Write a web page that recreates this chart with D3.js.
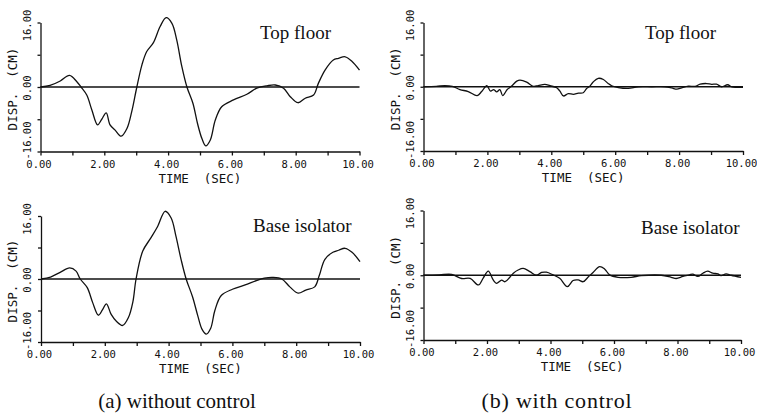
<!DOCTYPE html>
<html>
<head>
<meta charset="utf-8">
<title>Displacement time histories</title>
<script src="https://d3js.org/d3.v7.min.js"></script>
<style>
    body { margin: 0; background: #fff; }
    svg { display: block; }
    .tick text, .lbl { font-family: "DejaVu Sans Mono", monospace; font-size: 10.5px; fill: #111; }
    .ttl { font-family: "DejaVu Sans Mono", monospace; font-size: 12.5px; fill: #111; }
    .serif { font-family: "Liberation Serif", "Times New Roman", serif; fill: #111; }
</style>
</head>
<body>
<svg id="chart" width="757" height="417"></svg>
<script>
// datos: tiempo (s) y desplazamiento (cm)
const tTopA = [0, 0.3, 0.62, 0.91, 1.14, 1.27, 1.45, 1.61, 1.79, 1.92, 2.06, 2.18, 2.34, 2.53, 2.71, 2.86, 3.02, 3.18, 3.33, 3.54, 3.75, 3.94, 4.12, 4.27, 4.43, 4.59, 4.78, 4.92, 5.06, 5.18, 5.32, 5.48, 5.68, 6.05, 6.47, 6.78, 7.10, 7.36, 7.62, 7.83, 8.07, 8.30, 8.56, 8.71, 8.92, 9.18, 9.34, 9.55, 9.76, 10.0];
const dTopA = [0, 0.4, 1.5, 2.9, 1.3, 0, -2.0, -5.7, -9.4, -8.0, -6.4, -9.4, -10.7, -12.2, -10.3, -6.1, 0, 5.5, 8.8, 11.0, 15.0, 17.2, 15.8, 11.7, 5.1, 0, -4.1, -9.0, -12.8, -14.6, -13.2, -8.2, -4.9, -3.2, -1.8, -0.3, 0.3, 0.5, -0.3, -2.4, -3.9, -2.8, -2.0, 0.9, 4.2, 6.7, 7.1, 7.5, 6.4, 4.2];

const tBaseA = [0, 0.3, 0.6, 0.9, 1.1, 1.23, 1.45, 1.62, 1.8, 1.93, 2.05, 2.2, 2.37, 2.56, 2.74, 2.88, 2.98, 3.19, 3.45, 3.66, 3.89, 4.08, 4.23, 4.39, 4.55, 4.75, 4.92, 5.05, 5.18, 5.32, 5.45, 5.65, 6.0, 6.4, 6.75, 7.0, 7.27, 7.55, 7.8, 8.06, 8.3, 8.58, 8.72, 8.9, 9.15, 9.33, 9.53, 9.75, 10.0];
const dBaseA = [0, 0.5, 1.7, 2.8, 2.0, 0, -2.2, -6.0, -9.2, -7.8, -6.3, -9.0, -10.8, -11.8, -9.8, -5.8, 0, 7.1, 10.5, 13.4, 17.2, 15.5, 10.9, 5.0, 0, -4.5, -9.5, -12.8, -14.0, -12.5, -8.0, -4.2, -2.6, -1.5, -0.4, 0.2, 0.4, 0, -2.0, -3.6, -2.8, -2.0, 0.8, 5.0, 6.8, 7.3, 7.8, 6.8, 4.4];

const tTopB = [0, 0.4, 0.67, 0.9, 1.14, 1.4, 1.68, 1.82, 1.98, 2.1, 2.2, 2.29, 2.39, 2.48, 2.62, 2.76, 2.92, 3.02, 3.23, 3.44, 3.59, 3.8, 3.96, 4.17, 4.27, 4.38, 4.53, 4.69, 4.85, 5.0, 5.1, 5.2, 5.31, 5.47, 5.63, 5.78, 5.89, 6.1, 6.41, 6.72, 7.14, 7.56, 7.77, 7.93, 8.08, 8.29, 8.5, 8.66, 8.86, 9.02, 9.17, 9.33, 9.52, 9.65, 10.0];
const dTopB = [0, 0.1, 0.3, 0.1, -0.7, -1.2, -2.2, -1.2, 0.25, -1.1, -0.7, -1.3, -0.7, -2.2, -0.7, 0.2, 1.4, 1.65, 1.15, 0.1, 0.3, 0.6, 0.25, -0.25, -1.1, -2.3, -1.7, -1.9, -1.6, -1.5, -0.5, 0.1, 1.2, 2.1, 1.8, 0.8, 0.25, -0.2, -0.4, 0, 0, 0, -0.3, -0.6, -0.25, 0.15, 0.1, 0.65, 0.8, 0.6, 0.65, 0, 0.5, 0, -0.15];

const tBaseB = [0, 0.5, 0.89, 1.2, 1.47, 1.73, 1.88, 2.04, 2.2, 2.3, 2.46, 2.57, 2.72, 2.83, 2.98, 3.14, 3.35, 3.56, 3.72, 3.87, 4.08, 4.29, 4.53, 4.71, 4.87, 5.03, 5.18, 5.34, 5.55, 5.71, 5.86, 6.13, 6.54, 6.86, 7.49, 7.8, 7.96, 8.17, 8.38, 8.48, 8.64, 8.8, 8.95, 9.11, 9.27, 9.37, 9.53, 9.69, 10.0];
const dBaseB = [0, 0.1, 0.2, -0.8, -0.8, -2.4, -0.7, 1.0, -1.2, -2.0, -1.2, -1.6, -0.5, 0.5, 1.3, 1.7, 0.9, 0, 0.7, 0.75, 0.1, -0.75, -2.8, -1.3, -1.15, -1.6, -0.5, 0.7, 2.15, 1.5, 0.1, -0.5, -0.5, -0.1, 0, -0.5, -0.8, -0.3, 0.1, 0.3, -0.3, 0.5, 1.0, 0.5, 0.35, -0.1, 0.35, 0, -0.5];

const xTicks = [0, 1, 2, 3, 4, 5, 6, 7, 8, 9, 10];
const xLabelTicks = [0, 2, 4, 6, 8, 10];
const yTicks = [-16, -8, 0, 8, 16];
const yLabelTicks = [16, 0, -16];
const xTitle = "TIME  (SEC)";
const yTitle = "DISP.  (CM)";
const captions = ["(a) without control", "(b) with control"];

// paneles: posicion en la pagina
const panels = [
    { t: tTopA,  d: dTopA,  name: "Top floor",     left: 40.5,  right: 359.5, top: 22.5,  bottom: 151.5, lx: 260, ly: 39 },
    { t: tTopB,  d: dTopB,  name: "Top floor",     left: 423.5, right: 743,   top: 22.5,  bottom: 151,   lx: 645, ly: 39 },
    { t: tBaseA, d: dBaseA, name: "Base isolator", left: 41,    right: 360,   top: 216,   bottom: 342,   lx: 253, ly: 232 },
    { t: tBaseB, d: dBaseB, name: "Base isolator", left: 423.5, right: 741,   top: 210.5, bottom: 340,   lx: 641, ly: 234 }
];

const svg = d3.select("#chart");

panels.forEach(p => {
    const x = d3.scaleLinear().domain([0, 10]).range([p.left, p.right]);
    const y = d3.scaleLinear().domain([-16, 16]).range([p.bottom, p.top]);
    const g = svg.append("g");

    // eje x
    const ax = g.append("g")
        .attr("transform", `translate(0,${p.bottom})`)
        .call(d3.axisBottom(x).tickValues(xTicks).tickSize(4).tickSizeOuter(0).tickPadding(5)
            .tickFormat(d => xLabelTicks.includes(d) ? d.toFixed(2) : ""));
    ax.selectAll("text").attr("dx", -2);

    // eje y (sin etiquetas, se ponen rotadas abajo)
    g.append("g")
        .attr("transform", `translate(${p.left},0)`)
        .call(d3.axisLeft(y).tickValues(yTicks).tickSize(3).tickSizeOuter(0).tickFormat(""));

    g.selectAll(".domain, .tick line").attr("stroke", "#111").attr("stroke-width", 1.3);

    yLabelTicks.forEach(v => {
        const yy = y(v) + (v < 0 ? -11 : (v > 0 ? 3 : 1));
        g.append("text").attr("class", "lbl")
            .attr("transform", `translate(${p.left - 10},${yy}) rotate(-90)`)
            .attr("text-anchor", "middle")
            .text(v.toFixed(2));
    });

    g.append("text").attr("class", "ttl")
        .attr("x", (p.left + p.right) / 2).attr("y", p.bottom + 31)
        .attr("text-anchor", "middle")
        .style("white-space", "pre")
        .text(xTitle);

    g.append("text").attr("class", "ttl")
        .attr("transform", `translate(${p.left - 24},${(p.top + p.bottom) / 2 + 2}) rotate(-90)`)
        .attr("text-anchor", "middle")
        .style("white-space", "pre")
        .text(yTitle);

    // linea de cero
    g.append("line")
        .attr("x1", x(0)).attr("x2", x(10))
        .attr("y1", y(0)).attr("y2", y(0))
        .attr("stroke", "#111").attr("stroke-width", 1.3);

    const line = d3.line()
        .x(d => x(d[0]))
        .y(d => y(d[1]))
        .curve(d3.curveCatmullRom.alpha(0.5));

    g.append("path")
        .datum(d3.zip(p.t, p.d))
        .attr("fill", "none")
        .attr("stroke", "#111")
        .attr("stroke-width", 1.3)
        .attr("d", line);

    g.append("text").attr("class", "serif")
        .attr("x", p.lx).attr("y", p.ly)
        .style("font-size", "19px")
        .text(p.name);
});

svg.selectAll(".cap")
    .data(captions)
    .enter().append("text")
    .attr("class", "serif cap")
    .attr("x", (d, i) => i === 0 ? 177 : 557)
    .attr("y", 408)
    .attr("text-anchor", "middle")
    .style("font-size", (d, i) => i === 0 ? "21px" : "22px")
    .style("letter-spacing", (d, i) => i === 0 ? "0px" : "0.8px")
    .text(d => d);
</script>
</body>
</html>
